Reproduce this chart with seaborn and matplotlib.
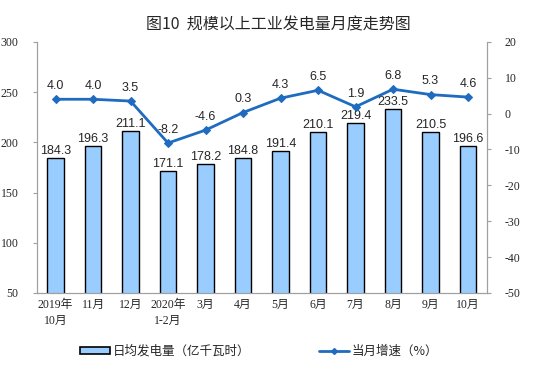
import matplotlib
matplotlib.use("Agg")
import matplotlib.pyplot as plt
import pandas as pd
import seaborn as sns
from matplotlib.lines import Line2D
from matplotlib.patches import Patch

months = ["2019年\n10月", "11月", "12月", "2020年\n1-2月", "3月", "4月", "5月",
          "6月", "7月", "8月", "9月", "10月"]
daily_output = [184.3, 196.3, 211.1, 171.1, 178.2, 184.8, 191.4, 210.1, 219.4, 233.5, 210.5, 196.6]
growth = [4.0, 4.0, 3.5, -8.2, -4.6, 0.3, 4.3, 6.5, 1.9, 6.8, 5.3, 4.6]

bar_label = "日均发电量（亿千瓦时）"
line_label = "当月增速（%）"

sns.set_style("white")
plt.rcParams["font.family"] = ["Liberation Serif", "Noto Sans CJK SC", "DejaVu Sans"]
plt.rcParams["axes.unicode_minus"] = False

df = pd.DataFrame({"month": months, "output": daily_output, "growth": growth})

fig = plt.figure(figsize=(5.57, 3.84), dpi=100)
ax = fig.add_axes([0.066, 0.237, 0.808, 0.654])

bar_color = "#99CCFF"
line_color = "#1F6BBF"
spine_color = "#A0A0A0"
value_font = ["Liberation Sans", "DejaVu Sans"]

sns.barplot(data=df, x="month", y="output", ax=ax, color=bar_color,
            edgecolor="black", linewidth=1.0, width=0.43, saturation=1)
ax.set_ylim(50, 300)
ax.set_yticks(range(50, 301, 50))
ax.set_xlim(-0.5, len(months) - 0.5)
ax.set_xlabel("")
ax.set_ylabel("")

for i, v in enumerate(daily_output):
    ax.text(i, v + 1.0, f"{v:.1f}", ha="center", va="bottom", fontsize=9, family=value_font)

ax2 = ax.twinx()
sns.lineplot(data=df, x="month", y="growth", ax=ax2, sort=False, color=line_color,
             linewidth=2, marker="D", markersize=4.5, markeredgecolor=line_color)
ax2.set_ylim(-50, 20)
ax2.set_yticks(range(-50, 21, 10))
ax2.set_xlabel("")
ax2.set_ylabel("")

for i, v in enumerate(growth):
    ax2.text(i, v + 2.0, f"{v:.1f}", ha="center", va="bottom", fontsize=9, family=value_font)

for a in (ax, ax2):
    a.spines["top"].set_visible(False)
    for side in ("left", "right", "bottom"):
        a.spines[side].set_color(spine_color)
        a.spines[side].set_linewidth(0.8)
    a.tick_params(axis="both", labelsize=8.5, length=3, color=spine_color, width=0.8,
                  direction="out")
    a.grid(False)
ax.set_xticks(range(len(months)))
ax.set_xticklabels(months, fontsize=8.5, linespacing=1.5)
ax.tick_params(axis="x", length=0, pad=4)
ax.tick_params(axis="y", left=True, pad=10)
ax2.tick_params(axis="y", right=True, pad=10)

fig.text(0.5, 0.935, "图10  规模以上工业发电量月度走势图", ha="center", va="center",
         fontsize=11.5, family=["Noto Sans CJK SC"])

handles = [Patch(facecolor=bar_color, edgecolor="black", linewidth=1.2),
           Line2D([0], [0], color=line_color, linewidth=2, marker="D", markersize=3)]
fig.legend(handles, [bar_label, line_label], loc="center", bbox_to_anchor=(0.465, 0.085),
           ncol=2, frameon=False, columnspacing=5.5, handlelength=2.4, handleheight=0.5,
           handletextpad=0.2, prop={"family": ["Noto Sans CJK SC"], "size": 9})

fig.savefig("out.png", dpi=100)
